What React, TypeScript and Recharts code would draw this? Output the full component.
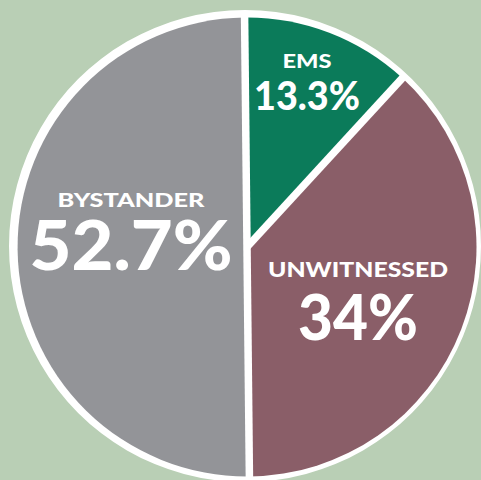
import React from "react";
import { PieChart, Pie, Cell } from "recharts";

const categories = ["EMS", "UNWITNESSED", "BYSTANDER"];
const sliceValues = [12, 38, 50];
const valueLabels = ["13.3%", "34%", "52.7%"];
const colors = ["#0b7b5a", "#8a5e68", "#939498"];

const BG = "#b9cfb5";

// label layout (offsets from pie centre)
const labelLayout = [
  { dx: 60, nameDy: -179, nameSize: 18, nameLen: 49, valDy: -137, valSize: 39, valLen: 106 },
  { dx: 111, nameDy: 30, nameSize: 20, nameLen: 180, valDy: 93, valSize: 62, valLen: 120 },
  { dx: -116, nameDy: -40, nameSize: 19, nameLen: 147, valDy: 23, valSize: 68, valLen: 203 },
];

const data = categories.map((name, i) => ({ name, value: sliceValues[i], label: valueLabels[i] }));
const ring = [{ name: "ring", value: 1 }];

const RAD = Math.PI / 180;

const renderLabel = (props: any) => {
  const { cx, cy, startAngle, outerRadius, index } = props;
  const L = labelLayout[index];
  const x2 = cx + (outerRadius + 3) * Math.cos(-startAngle * RAD);
  const y2 = cy + (outerRadius + 3) * Math.sin(-startAngle * RAD);
  const font = "Lato, 'Open Sans', sans-serif";
  return (
    <g key={`lbl-${index}`}>
      <line x1={cx} y1={cy} x2={x2} y2={y2} stroke="#ffffff" strokeWidth={7.5} />
      <text
        x={cx + L.dx}
        y={cy + L.nameDy}
        textAnchor="middle"
        fill="#ffffff"
        fontFamily={font}
        fontWeight={900}
        fontSize={L.nameSize}
        textLength={L.nameLen}
        lengthAdjust="spacingAndGlyphs"
      >
        {categories[index]}
      </text>
      <text
        x={cx + L.dx}
        y={cy + L.valDy}
        textAnchor="middle"
        fill="#ffffff"
        fontFamily={font}
        fontWeight={900}
        fontSize={L.valSize}
        textLength={L.valLen}
        lengthAdjust="spacingAndGlyphs"
      >
        {valueLabels[index]}
      </text>
    </g>
  );
};

export default function App() {
  return (
    <div style={{ position: "absolute", left: 0, top: 0, width: 481, height: 480, background: BG, overflow: "hidden" }}>
      <PieChart width={481} height={480} margin={{ top: 0, right: 0, bottom: 0, left: 0 }}>
        <Pie
          data={ring}
          dataKey="value"
          cx={245}
          cy={246}
          outerRadius={236}
          innerRadius={0}
          startAngle={90}
          endAngle={-270}
          fill="#ffffff"
          stroke="none"
          isAnimationActive={false}
        />
        <Pie
          data={data}
          dataKey="value"
          nameKey="name"
          cx={247}
          cy={247}
          outerRadius={229.5}
          innerRadius={0}
          startAngle={90.6}
          endAngle={-269.4}
          stroke="none"
          label={renderLabel}
          labelLine={false}
          isAnimationActive={false}
        >
          {data.map((d, i) => (
            <Cell key={d.name} fill={colors[i]} stroke="none" />
          ))}
        </Pie>
      </PieChart>
    </div>
  );
}
